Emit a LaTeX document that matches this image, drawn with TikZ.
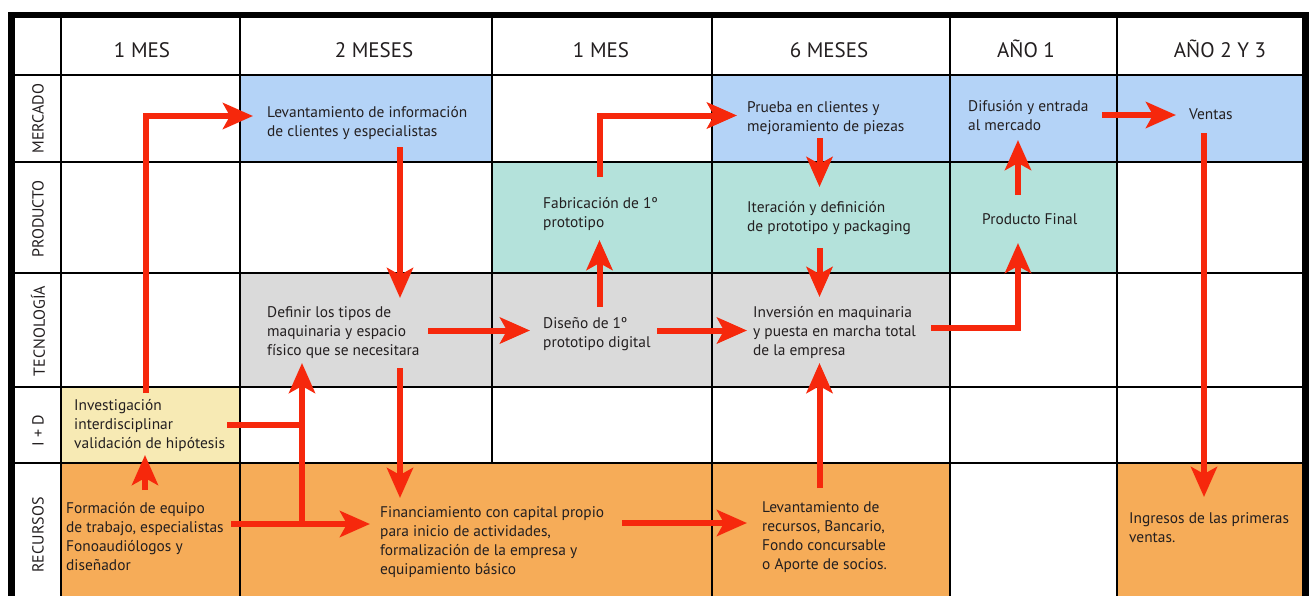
\documentclass[tikz,border=0pt]{standalone}
\usepackage{fontspec}
\setmainfont{PT Sans}
\usetikzlibrary{arrows.meta}
\definecolor{mercado}{RGB}{180,211,247}
\definecolor{producto}{RGB}{180,226,219}
\definecolor{tecno}{RGB}{218,218,218}
\definecolor{imasd}{RGB}{247,234,180}
\definecolor{recursos}{RGB}{246,172,88}
\definecolor{flecha}{RGB}{246,40,12}
\definecolor{tinta}{RGB}{35,31,32}
\newcommand{\cuerpo}{\fontsize{15.4}{19}\selectfont}
\newcommand{\titulo}{\fontsize{21}{24}\selectfont}
\newcommand{\fila}{\fontsize{16}{18}\selectfont}

\begin{document}
\begin{tikzpicture}[x=1pt,y=-1pt,
       txt/.style={anchor=north west,inner sep=0pt,align=left,font=\cuerpo,text=tinta},
       head/.style={anchor=base,inner sep=0pt,font=\titulo,text=tinta},
       lane/.style={rotate=90,inner sep=0pt,font=\fila,text=tinta},
       grid/.style={line width=2pt,black},
       arr/.style={line width=6pt,flecha,-{Stealth[length=30pt,width=26pt,inset=7pt]}},
       seg/.style={line width=6pt,flecha}]
       \useasboundingbox (0,0) rectangle (1310,595);
       \fill[white] (0,0) rectangle (1310,595);
       \fill[mercado] (240,75) rectangle (492,162);
       \fill[mercado] (712,75) rectangle (1305,162);
       \fill[producto] (492,162) rectangle (1117,273);
       \fill[tecno] (240,273) rectangle (950,387);
       \fill[imasd] (61,387) rectangle (240,463);
       \fill[recursos] (61,463) rectangle (950,620);
       \fill[recursos] (1117,463) rectangle (1305,620);
       \draw[grid] (15,75) -- (1305,75);
       \draw[grid] (15,162) -- (1305,162);
       \draw[grid] (15,273) -- (1305,273);
       \draw[grid] (15,387) -- (1305,387);
       \draw[grid] (15,463) -- (1305,463);
       \draw[grid] (61,18) -- (61,620);
       \draw[grid] (240,18) -- (240,620);
       \draw[grid] (492,18) -- (492,463);
       \draw[grid] (712,18) -- (712,620);
       \draw[grid] (950,18) -- (950,620);
       \draw[grid] (1117,18) -- (1117,620);
       \draw[line width=6.5pt] (11.5,620) -- (11.5,15) -- (1305.5,15) -- (1305.5,620);
       \node[head] (h1) at (142,57) {1 MES};
       \node[head] (h2) at (374,57) {2 MESES};
       \node[head] (h3) at (601,57) {1 MES};
       \node[head] (h4) at (829,57) {6 MESES};
       \node[head] (h5) at (1026,57) {AÑO 1};
       \node[head] (h6) at (1220,57) {AÑO 2 Y 3};
       \node[lane] (mer) at (38,118.5) {MERCADO};
       \node[lane] (pro) at (38,219) {PRODUCTO};
       \node[lane] (tec) at (38,331) {TECNOLOGÍA};
       \node[lane] (iyd) at (38,431) {I + D};
       \node[lane] (rec) at (38,535) {RECURSOS};
       \node[txt] (lev) at (267,106) {Levantamiento de información\\de clientes y especialistas};
       \node[txt] (prueba) at (747,101) {Prueba en clientes y\\mejoramiento de piezas};
       \node[txt] (difusion) at (968,100) {Difusión y entrada\\al mercado};
       \node[txt] (ventas) at (1189,109) {Ventas};
       \node[txt] (fabric) at (543,197) {Fabricación de 1º\\prototipo};
       \node[txt] (iter) at (747,201) {Iteración y definición\\de prototipo y packaging};
       \node[txt] (final) at (982,213) {Producto Final};
       \node[txt] (definir) at (267,306) {Definir los tipos de\\maquinaria y espacio\\físico que se necesitara};
       \node[txt] (disenio) at (543,317) {Diseño de 1º\\prototipo digital};
       \node[txt] (inversion) at (753,306) {Inversión en maquinaria\\y puesta en marcha total\\de la empresa};
       \node[txt] (investig) at (74,399) {Investigación\\interdisciplinar\\validación de hipótesis};
       \node[txt] (formacion) at (66,502) {Formación de equipo\\de trabajo, especialistas\\Fonoaudiólogos y\\diseñador};
       \node[txt] (financ) at (380,506) {Financiamiento con capital propio\\para inicio de actividades,\\formalización de la empresa y\\equipamiento básico};
       \node[txt] (levrec) at (762,501) {Levantamiento de\\recursos, Bancario,\\Fondo concursable\\o Aporte de socios.};
       \node[txt] (ingresos) at (1129,512) {Ingresos de las primeras\\ventas.};
       \draw[arr] ([shift={(71.5,-6)}]investig.north west) |- ([shift={(-14,10)}]lev.north west);
       \draw[arr] ([shift={(133,41)}]lev.north west) -- ([shift={(133,-8)}]definir.north west);
       \draw[arr] ([shift={(133,62)}]definir.north west) -- ([shift={(20,-8)}]financ.north west);
       \draw[arr] ([shift={(79,-12)}]formacion.north west) -- ([shift={(71,56)}]investig.north west);
       \draw[arr] ([shift={(165,22)}]formacion.north west) -| ([shift={(35,57)}]definir.north west);
       \draw[arr] ([shift={(165,22)}]formacion.north west) -- ([shift={(-10,18)}]financ.north west);
       \draw[seg] ([shift={(153,26)}]investig.north west) -- ([shift={(38,119)}]definir.north west);
       \draw[arr] ([shift={(161,24.5)}]definir.north west) -- ([shift={(-13,13.5)}]disenio.north west);
       \draw[arr] ([shift={(56.5,-10)}]disenio.north west) -- ([shift={(56.5,43)}]fabric.north west);
       \draw[arr] ([shift={(56.5,-20)}]fabric.north west) |- ([shift={(-10,14.5)}]prueba.north west);
       \draw[arr] ([shift={(114,13.5)}]disenio.north west) -- ([shift={(-6,24.5)}]inversion.north west);
       \draw[arr] ([shift={(72.5,37)}]prueba.north west) -- ([shift={(72.5,-14)}]iter.north west);
       \draw[arr] ([shift={(72.5,47)}]iter.north west) -- ([shift={(66.5,-9)}]inversion.north west);
       \draw[arr] ([shift={(57.5,-13)}]levrec.north west) -- ([shift={(66.5,57)}]inversion.north west);
       \draw[arr] ([shift={(242,17)}]financ.north west) -- ([shift={(-15,22)}]levrec.north west);
       \draw[arr] ([shift={(178,22)}]inversion.north west) -| ([shift={(36,30)}]final.north west);
       \draw[arr] ([shift={(36,-18)}]final.north west) -- ([shift={(50,40)}]difusion.north west);
       \draw[arr] ([shift={(134,15)}]difusion.north west) -- ([shift={(-13,6)}]ventas.north west);
       \draw[arr] ([shift={(15,24)}]ventas.north west) -- ([shift={(75,-15)}]ingresos.north west);
\end{tikzpicture}
\end{document}
